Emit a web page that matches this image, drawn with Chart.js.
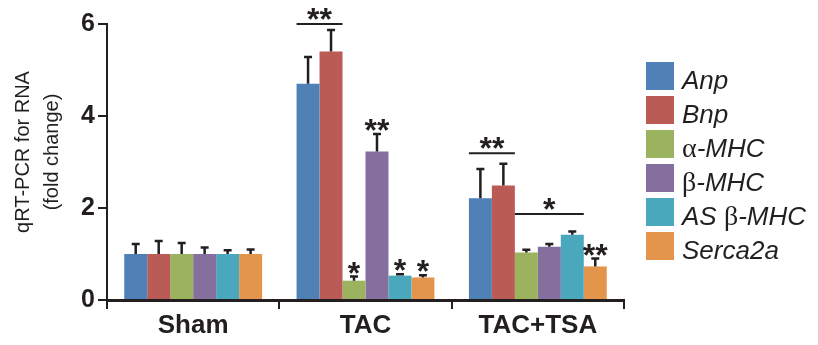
<!DOCTYPE html>
<html>
<head>
<meta charset="utf-8">
<script src="https://cdn.jsdelivr.net/npm/chart.js@4.4.0/dist/chart.umd.min.js"></script>
<style>
  html, body { margin: 0; padding: 0; background: #fff; }
  #wrap { width: 818px; height: 345px; }
</style>
</head>
<body>
<div id="wrap"><canvas id="chart" width="818" height="345"></canvas></div>
<script>
// Groups and genes
const groups = ['Sham', 'TAC', 'TAC+TSA'];
const genes = ['Anp', 'Bnp', 'α-MHC', 'β-MHC', 'AS β-MHC', 'Serca2a'];
const colors = ['#4f81b6', '#bb5b56', '#9bb35e', '#846f9f', '#4aa8bd', '#e3964b'];

// Fold change, one value per group
const anp = [1.0, 4.70, 2.21];
const bnp = [1.0, 5.40, 2.49];
const aMhc = [1.0, 0.42, 1.03];
const bMhc = [1.0, 3.23, 1.16];
const asBMhc = [1.0, 0.53, 1.42];
const serca2a = [1.0, 0.49, 0.73];

// Error (upper whisker length)
const anpErr = [0.22, 0.58, 0.64];
const bnpErr = [0.28, 0.47, 0.47];
const aMhcErr = [0.24, 0.09, 0.06];
const bMhcErr = [0.14, 0.38, 0.06];
const asBMhcErr = [0.08, 0.03, 0.07];
const serca2aErr = [0.10, 0.05, 0.17];

const yTicks = [0, 2, 4, 6];
const yTitle = ['qRT-PCR for RNA', '(fold change)'];

// Single-bar significance: [group, gene, stars]
const starMarks = [[1, 2, '*'], [1, 3, '**'], [1, 4, '*'], [1, 5, '*'], [2, 5, '**']];
// Brackets: [group, first gene, last gene, level, stars]
const brackets = [[1, 0, 1, 6.0, '**'], [2, 0, 1, 3.19, '**'], [2, 2, 4, 1.87, '*']];

const values = [anp, bnp, aMhc, bMhc, asBMhc, serca2a];
const errors = [anpErr, bnpErr, aMhcErr, bMhcErr, asBMhcErr, serca2aErr];

const ink = '#231f20';
const sans = '"Liberation Sans", Arial, sans-serif';

function drawStars(ctx, text, cx, bottom) {
  ctx.font = 'bold 32px ' + sans;
  ctx.textAlign = 'center';
  ctx.textBaseline = 'alphabetic';
  const m = ctx.measureText(text);
  // ink bottom of the asterisks sits on "bottom"
  ctx.fillText(text, cx, bottom - m.actualBoundingBoxDescent);
}

const errorBars = {
  id: 'errorBars',
  afterDatasetsDraw(chart) {
    const {ctx, scales: {y}} = chart;
    ctx.save();
    ctx.strokeStyle = ink;
    ctx.fillStyle = ink;
    ctx.lineWidth = 2.5;
    const tops = [];
    chart.data.datasets.forEach((ds, i) => {
      tops[i] = [];
      chart.getDatasetMeta(i).data.forEach((bar, j) => {
        const top = y.getPixelForValue(ds.data[j] + ds.errors[j]);
        tops[i][j] = top;
        ctx.beginPath();
        ctx.moveTo(bar.x, bar.y);
        ctx.lineTo(bar.x, top);
        ctx.moveTo(bar.x - 4, top);
        ctx.lineTo(bar.x + 4, top);
        ctx.stroke();
      });
    });

    starMarks.forEach(([g, s, txt]) => {
      const bar = chart.getDatasetMeta(s).data[g];
      drawStars(ctx, txt, bar.x, tops[s][g] - 3);
    });

    ctx.lineWidth = 2;
    brackets.forEach(([g, a, b, level, txt]) => {
      const b1 = chart.getDatasetMeta(a).data[g];
      const b2 = chart.getDatasetMeta(b).data[g];
      const x1 = b1.x - b1.width / 2;
      const x2 = b2.x + b2.width / 2;
      const yy = y.getPixelForValue(level);
      ctx.beginPath();
      ctx.moveTo(x1, yy);
      ctx.lineTo(x2, yy);
      ctx.stroke();
      drawStars(ctx, txt, (x1 + x2) / 2, yy - 4);
    });
    ctx.restore();
  }
};

// Two-line rotated y title, centred a little above the axis middle
const yTitlePlugin = {
  id: 'yTitlePlugin',
  afterDraw(chart) {
    const ctx = chart.ctx;
    ctx.save();
    ctx.translate(23, 152);
    ctx.rotate(-Math.PI / 2);
    ctx.fillStyle = ink;
    ctx.font = '20px ' + sans;
    ctx.textAlign = 'center';
    ctx.textBaseline = 'middle';
    yTitle.forEach((t, i) => ctx.fillText(t, 0, i * 29));
    ctx.restore();
  }
};

// Legend with italic gene names and upright Greek letters
const sideLegend = {
  id: 'sideLegend',
  afterDraw(chart) {
    const ctx = chart.ctx;
    ctx.save();
    ctx.textAlign = 'left';
    ctx.textBaseline = 'alphabetic';
    chart.data.datasets.forEach((ds, i) => {
      const top = 62 + i * 34;
      ctx.fillStyle = ds.backgroundColor;
      ctx.fillRect(646, top, 28, 28);
      ctx.fillStyle = ink;
      let x = 682;
      const runs = ds.label.match(/[α-ω]+|[^α-ω]+/g);
      runs.forEach(r => {
        const greek = /[α-ω]/.test(r);
        ctx.font = greek ? '28px "Liberation Serif", serif' : 'italic 26px ' + sans;
        ctx.fillText(r, x, top + 27);
        x += ctx.measureText(r).width;
      });
    });
    ctx.restore();
  }
};

const ctx = document.getElementById('chart').getContext('2d');
new Chart(ctx, {
  type: 'bar',
  data: {
    labels: groups,
    datasets: genes.map((g, i) => ({
      label: g,
      data: values[i],
      errors: errors[i],
      backgroundColor: colors[i],
      borderWidth: 0,
      categoryPercentage: 0.8,
      barPercentage: 1.0
    }))
  },
  options: {
    responsive: false,
    animation: false,
    devicePixelRatio: 1,
    layout: { padding: { top: 24, right: 194, left: 0, bottom: 0 } },
    plugins: { legend: { display: false }, tooltip: { enabled: false } },
    scales: {
      x: {
        grid: { display: true, drawOnChartArea: false, offset: true, tickLength: 9, color: ink, lineWidth: 2 },
        border: { color: ink, width: 3 },
        ticks: { color: ink, padding: 1, font: { family: sans, size: 26, weight: 'bold' } },
        afterFit: s => { s.height = 45; }
      },
      y: {
        min: 0,
        max: 6,
        afterBuildTicks: s => { s.ticks = yTicks.map(v => ({ value: v })); },
        grid: { display: true, drawOnChartArea: false, tickLength: 9, color: ink, lineWidth: 2 },
        border: { color: ink, width: 2 },
        ticks: { color: ink, padding: 3, font: { family: sans, size: 25, weight: 'bold' } },
        afterFit: s => { s.width = 107; }
      }
    }
  },
  plugins: [errorBars, yTitlePlugin, sideLegend]
});
</script>
</body>
</html>
